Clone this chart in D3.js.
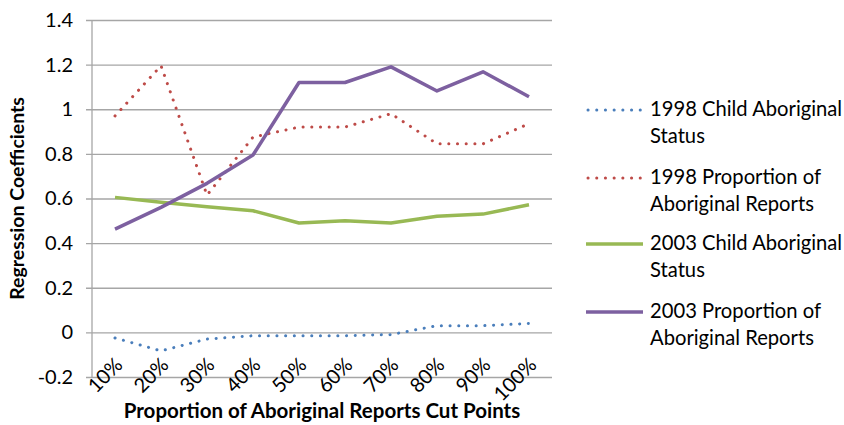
<!DOCTYPE html>
<html>
<head>
<meta charset="utf-8">
<script src="https://cdn.jsdelivr.net/npm/d3@7"></script>
<style>
  body { margin: 0; background: #fff; }
  svg text { font-family: Lato, "Open Sans", sans-serif; fill: #000; }
</style>
</head>
<body>
<svg id="chart" width="844" height="425"></svg>
<script>
// Regression coefficients by cut point

var cutPoints = ["10%", "20%", "30%", "40%", "50%", "60%", "70%", "80%", "90%", "100%"];
var yTicks = [-0.2, 0, 0.2, 0.4, 0.6, 0.8, 1, 1.2, 1.4];

var child1998 = [-0.025, -0.083, -0.03, -0.015, -0.015, -0.015, -0.01, 0.03, 0.03, 0.04];
var prop1998 = [0.97, 1.195, 0.615, 0.875, 0.92, 0.92, 0.98, 0.845, 0.845, 0.935];
var child2003 = [0.605, 0.583, 0.563, 0.545, 0.49, 0.5, 0.49, 0.52, 0.53, 0.572];
var prop2003 = [0.463, 0.56, 0.668, 0.795, 1.12, 1.12, 1.19, 1.082, 1.168, 1.056];

var seriesNames = [["1998 Child Aboriginal", "Status"], ["1998 Proportion of", "Aboriginal Reports"],
	["2003 Child Aboriginal", "Status"], ["2003 Proportion of", "Aboriginal Reports"]];
var seriesColors = ["#4a7ebb", "#be4b48", "#98b954", "#7d60a0"];
var seriesDotted = [true, true, false, false];
var seriesValues = [child1998, prop1998, child2003, prop2003];

var svg = d3.select("#chart");
var margin = {left: 92, top: 20, right: 292, bottom: 48};
var width = 844 - margin.left - margin.right;
var height = 425 - margin.top - margin.bottom;

var x = d3.scaleBand().domain(cutPoints).range([0, width]);
var y = d3.scaleLinear().domain([-0.2, 1.4]).range([height, 0]);

var g = svg.append("g").attr("transform", "translate(" + margin.left + "," + margin.top + ")");

// gridlines + y axis
var yAxis = g.append("g")
	.call(d3.axisLeft(y).tickValues(yTicks).tickSize(-width - 6).tickPadding(19));
yAxis.select(".domain").remove();
yAxis.selectAll(".tick line").attr("stroke", "#a6a6a6").attr("stroke-width", 1.3).attr("x1", -6).attr("x2", width);
yAxis.selectAll(".tick text").attr("font-size", 20).attr("font-family", "Lato").attr("fill", "#000")
	.text(d => String(+d.toFixed(1)));

g.append("line").attr("x1", 0).attr("x2", 0).attr("y1", 0).attr("y2", height)
	.attr("stroke", "#a6a6a6").attr("stroke-width", 1.3);

// x labels, rotated
g.append("g").selectAll("text").data(cutPoints).enter().append("text")
	.attr("transform", d => "translate(" + (x(d) + x.bandwidth() / 2 - 1) + "," + (y(0) + 24) + ") rotate(-45)")
	.attr("text-anchor", "end")
	.attr("dy", "0.7em")
	.attr("font-size", 20)
	.text(d => d);

// lines
var line = d3.line().x((d, i) => x(cutPoints[i]) + x.bandwidth() / 2).y(d => y(d));
seriesValues.forEach(function(vals, k) {
	g.append("path").datum(vals)
		.attr("d", line)
		.attr("fill", "none")
		.attr("stroke", seriesColors[k])
		.attr("stroke-width", seriesDotted[k] ? 3 : 3.5)
		.attr("stroke-linecap", seriesDotted[k] ? "round" : "butt")
		.attr("stroke-linejoin", "round")
		.attr("stroke-dasharray", seriesDotted[k] ? "0.1 8.6" : null);
});

// axis titles
svg.append("text")
	.attr("x", margin.left + width / 2).attr("y", 418)
	.attr("text-anchor", "middle").attr("font-weight", "bold").attr("font-size", 20.5)
	.text("Proportion of Aboriginal Reports Cut Points");
svg.append("text")
	.attr("transform", "translate(24," + (margin.top + height / 2) + ") rotate(-90)")
	.attr("text-anchor", "middle").attr("font-weight", "bold").attr("font-size", 19.5)
	.text("Regression Coefficients");

// legend
var legendY = [110, 178, 244, 312];
var legend = svg.append("g").selectAll("g").data(seriesNames).enter().append("g")
	.attr("transform", (d, i) => "translate(586," + legendY[i] + ")");
legend.append("line")
	.attr("x1", (d, i) => seriesDotted[i] ? 2 : 0).attr("x2", 57).attr("y1", 0).attr("y2", 0)
	.attr("stroke", (d, i) => seriesColors[i])
	.attr("stroke-width", (d, i) => seriesDotted[i] ? 3 : 3.5)
	.attr("stroke-linecap", (d, i) => seriesDotted[i] ? "round" : "butt")
	.attr("stroke-dasharray", (d, i) => seriesDotted[i] ? "0.1 8.6" : null);
legend.append("text")
	.attr("x", 64).attr("y", 6).attr("font-size", 20.2)
	.text(d => d[0]);
legend.append("text")
	.attr("x", 64).attr("y", 33).attr("font-size", 20.2)
	.text(d => d[1]);
</script>
</body>
</html>
